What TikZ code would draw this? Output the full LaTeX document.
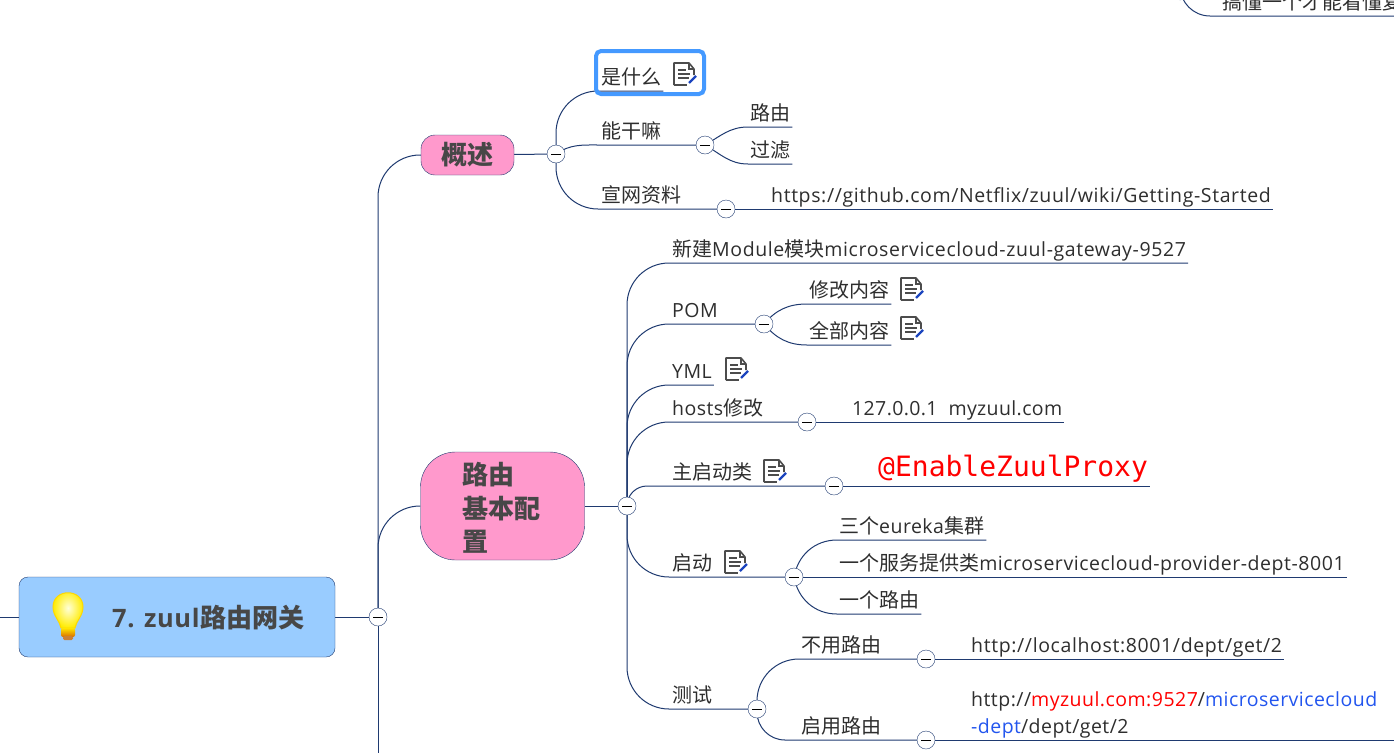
\documentclass[tikz,border=0pt]{standalone}
\usepackage{fontspec}
\setmainfont{Open Sans}[LetterSpace=2.4]
\newfontfamily\cjkfont{Noto Sans CJK SC}[Scale=1.026]
\newfontfamily\codefont{DejaVu Sans Mono}
\newcommand{\zh}[1]{{\cjkfont #1}}
\usetikzlibrary{shapes, calc, positioning, backgrounds}
\definecolor{linknavy}{HTML}{1F3A70}
\definecolor{rootblue}{HTML}{99CCFF}
\definecolor{mainpink}{HTML}{FF99CC}
\definecolor{markblue}{HTML}{4499FF}
\definecolor{bodygrey}{HTML}{2E2E2E}
\definecolor{headgrey}{HTML}{474747}
\definecolor{linkblue}{HTML}{2255EE}

\begin{document}
\begin{tikzpicture}[
		x=1pt, y=-1pt,
		root/.style={
				draw=linknavy,
				fill=rootblue,
				rectangle,
				rounded corners=9pt,
				minimum width=316pt,
				minimum height=80pt
			},
		mainbox/.style={
				draw=linknavy,
				fill=mainpink,
				rectangle,
				inner sep=0pt
			},
		headtext/.style={
				font=\fontsize{25.4}{33.5}\selectfont\bfseries,
				text=headgrey
			},
		topic/.style={
				anchor=south west,
				xshift=-2pt,
				inner xsep=2pt,
				inner ysep=0pt,
				text height=16pt,
				text depth=6pt,
				text=bodygrey,
				font=\fontsize{19.5}{24}\selectfont
			},
		toggle/.style={
				draw=linknavy,
				fill=white,
				circle,
				inner sep=0pt,
				minimum size=18pt,
				path picture={
						\draw[black, line width=1pt] ([xshift=-5pt]path picture bounding box.center) -- ([xshift=5pt]path picture bounding box.center);
					}
			},
		link/.style={
				draw=linknavy,
				line width=1pt
			},
		notemark/.pic={
				\draw[black!70, line width=1.6pt, line join=round] (-10,11) -- (-10,-11) -- (5,-11) -- (10,-5) -- (10,1);
				\draw[black!70, line width=1.4pt] (5,-11) -- (5,-5) -- (10,-5);
				\draw[black!70, line width=1.6pt] (-10,11) -- (3,11);
				\draw[black!70, line width=1.4pt] (-6,-4) -- (2,-4) (-6,0) -- (6,0) (-6,4) -- (5,4);
				\draw[linkblue!80!black, line width=2.4pt] (5,9) -- (12,2);
			}
	]
	\useasboundingbox (0,0) rectangle (1394,753);

	% Root and main branches
	\node[root] (zuul) at (177,617) {};
	\node[headtext, anchor=west, inner sep=0pt] (zuul_text) at (112,618) {7. zuul\hspace{1pt}\zh{路由网关}};
	\node[mainbox, rounded corners=14pt, minimum width=93pt, minimum height=40pt, headtext] (overview) at (467.5,155) {\zh{概述}\hspace{3pt}};
	\node[mainbox, rounded corners=35pt, minimum width=164pt, minimum height=108pt] (routing) at (502.5,506) {};
	\node[headtext, anchor=north west, align=left, inner sep=0pt] (routing_text) at (462,462) {\zh{路由}\\\zh{基本配}\\\zh{置}};
	\coordinate (left_end) at (0,617);
	\coordinate (trunk_end) at (378,753);

	% Light bulb
	\shade[inner color=yellow!15, outer color=yellow!85!orange, draw=yellow!75!orange, line width=1pt]
		(61,628) .. controls (60,621) and (53,616) .. (53,607) .. controls (53,588) and (83,588) .. (83,607) .. controls (83,616) and (76,621) .. (75,628) -- cycle;
	\shade[top color=yellow!80!orange, bottom color=orange!85!black, rounded corners=2pt] (61,628) rectangle (75,637);
	\fill[brown!80!orange, rounded corners=1.5pt] (63,636) rectangle (73,640);

	% Toggles
	\node[toggle] (t_root) at (378,617) {};
	\node[toggle] (t_overview) at (556,154) {};
	\node[toggle] (t_cando) at (705,145) {};
	\node[toggle] (t_docs) at (726,209) {};
	\node[toggle] (t_routing) at (627,506) {};
	\node[toggle] (t_pom) at (764,324) {};
	\node[toggle] (t_hosts) at (807,422) {};
	\node[toggle] (t_main) at (834,486) {};
	\node[toggle] (t_start) at (794,577) {};
	\node[toggle] (t_test) at (757,709) {};
	\node[toggle] (t_noroute) at (926,659) {};
	\node[toggle] (t_useroute) at (926,740) {};

	% Overview topics
	\node[topic] (what_is) at (601,91) {\zh{是什么}};
	\draw[markblue, line width=4pt, rounded corners=5pt] (596,51) rectangle (704,94);
	\node[topic] (can_do) at (601,145) {\zh{能干嘛}};
	\node[topic] (route_word) at (750,127) {\zh{路由}};
	\node[topic] (filter_word) at (750,164) {\zh{过滤}};
	\node[topic] (docs) at (601,209) {\zh{宣网资料}};
	\node[topic] (docs_url) at (771,209) {\addfontfeature{LetterSpace=3.1}https://github.com/Netflix/zuul/wiki/Getting-Started};

	% Routing topics
	\node[topic] (new_module) at (672,263) {\addfontfeature{LetterSpace=3.1}\zh{新建}Module\zh{模块}microservicecloud-zuul-gateway-9527};
	\node[topic] (pom) at (672,324) {POM};
	\node[topic] (pom_edit) at (809,304) {\zh{修改内容}};
	\node[topic] (pom_full) at (809,345) {\zh{全部内容}};
	\node[topic] (yml) at (672,385) {YML};
	\node[topic] (hosts) at (672,422) {hosts\zh{修改}};
	\node[topic] (hosts_line) at (852,422) {\addfontfeature{LetterSpace=1.9}127.0.0.1\ \ myzuul.com};
	\node[topic] (main_class) at (672,486) {\zh{主启动类}};
	\node[topic, font=\fontsize{28}{34}\selectfont\codefont, text=red, text depth=9pt] (proxy) at (878,486) {@EnableZuulProxy};
	\node[topic] (start) at (672,577) {\zh{启动}};
	\node[topic] (eureka) at (839,540) {\zh{三个}eureka\zh{集群}};
	\node[topic] (provider) at (839,577) {\zh{一个服务提供类}\addfontfeature{LetterSpace=2.8}microservicecloud-provider-dept-8001};
	\node[topic] (one_route) at (839,614) {\zh{一个路由}};
	\node[topic] (test) at (672,709) {\zh{测试}};
	\node[topic] (no_route) at (801,659) {\zh{不用路由}};
	\node[topic] (no_route_url) at (971,659) {\addfontfeature{LetterSpace=3.2}http://localhost:8001/dept/get/2};
	\node[topic] (use_route) at (801,740) {\zh{启用路由}};
	\node[topic, align=left] (use_route_url) at (971,740) {http://\textcolor{red}{myzuul.com:9527}/\textcolor{linkblue}{microservicecloud}\\[3pt]\textcolor{linkblue}{-dept}/dept/get/2};
	\coordinate (use_route_end) at (1394,740);

	% Cut-off topic in the corner
	\node[topic] (corner) at (1222,16) {\zh{搞懂一个才能看懂复}};
	\coordinate (corner_start) at (1180,0);
	\coordinate (corner_end) at (1394,16);

	% Note marks
	\pic at (684,74) {notemark};
	\pic at (911,289) {notemark};
	\pic at (911,328) {notemark};
	\pic at (736,369) {notemark};
	\pic at (774,471) {notemark};
	\pic at (735,562) {notemark};

	% Paths
	\begin{scope}[on background layer]
		\draw[link] (left_end) -- (zuul);
		\draw[link] (zuul) -- (t_root);
		\draw[link] (t_root) -- (trunk_end);
		\draw[link, rounded corners=42pt] (t_root.center) |- (overview);
		\draw[link, rounded corners=42pt] (t_root.center) |- (routing);
		\draw[link] (overview) -- (t_overview);
		\draw[link] (routing) -- (t_routing);

		\draw[link, rounded corners=42pt] (t_overview.center) |- (what_is.south east);
		\draw[link] (t_overview.center) to[out=35, in=180] (can_do.south west) -- (t_cando);
		\draw[link, rounded corners=42pt] (t_overview.center) |- (t_docs.center);
		\draw[link] (t_cando.center) to[out=30, in=180] (route_word.south west) -- (route_word.south east);
		\draw[link] (t_cando.center) to[out=-30, in=180] (filter_word.south west) -- (filter_word.south east);
		\draw[link] (t_docs) -- (docs_url.south east);

		\draw[link, rounded corners=42pt] (t_routing.center) |- (new_module.south east);
		\draw[link, rounded corners=42pt] (t_routing.center) |- (t_pom.center);
		\draw[link, rounded corners=42pt] (t_routing.center) |- (yml.south east);
		\draw[link, rounded corners=42pt] (t_routing.center) |- (t_hosts.center);
		\draw[link, rounded corners=20pt] (t_routing.center) |- (t_main.center);
		\draw[link, rounded corners=42pt] (t_routing.center) |- (t_start.center);
		\draw[link, rounded corners=42pt] (t_routing.center) |- (t_test.center);

		\draw[link] (t_pom.center) to[out=50, in=180] (pom_edit.south west) -- (pom_edit.south east);
		\draw[link] (t_pom.center) to[out=-50, in=180] (pom_full.south west) -- (pom_full.south east);
		\draw[link] (t_hosts) -- (hosts_line.south east);
		\draw[link] (t_main) -- (proxy.south east);
		\draw[link] (t_start.center) to[out=80, in=180] (eureka.south west) -- (eureka.south east);
		\draw[link] (t_start) -- (provider.south east);
		\draw[link] (t_start.center) to[out=-80, in=180] (one_route.south west) -- (one_route.south east);
		\draw[link, rounded corners=42pt] (t_test.center) |- (t_noroute.center);
		\draw[link, rounded corners=28pt] (t_test.center) |- (t_useroute.center);
		\draw[link] (t_noroute) -- (no_route_url.south east);
		\draw[link] (t_useroute) -- (use_route_end);
		\draw[link, rounded corners=30pt] (corner_start) |- (corner_end);
	\end{scope}
\end{tikzpicture}
\end{document}
